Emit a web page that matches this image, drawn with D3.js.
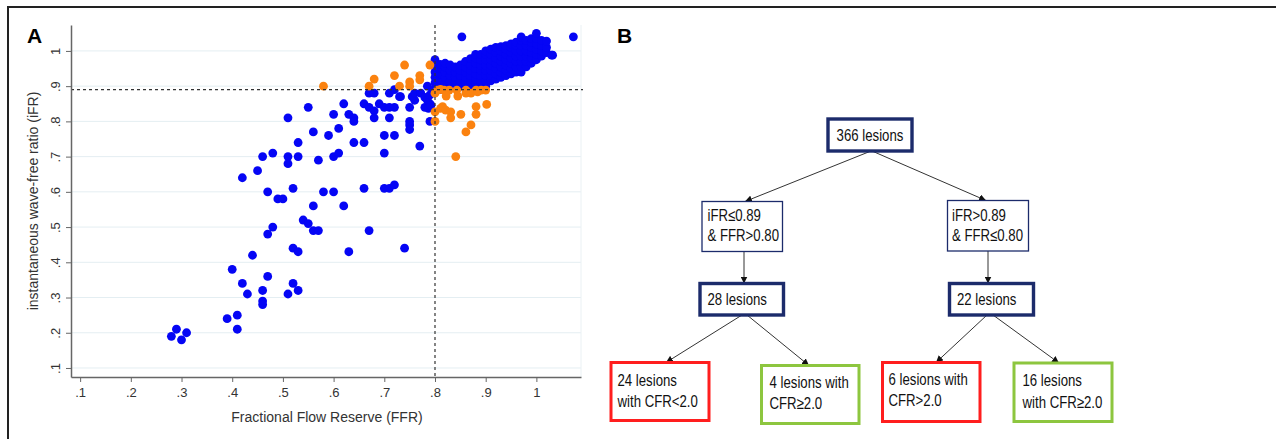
<!DOCTYPE html>
<html>
<head>
<meta charset="utf-8">
<script src="https://cdn.jsdelivr.net/npm/d3@7"></script>
<style>
  body { margin: 0; background: #fff; }
  svg text { font-family: "Liberation Sans", Arial, sans-serif; }
</style>
</head>
<body>
<svg id="fig" width="1276" height="439"></svg>
<script>
// ---- data ----
const xTicks = [0.1, 0.2, 0.3, 0.4, 0.5, 0.6, 0.7, 0.8, 0.9, 1];
const yTicks = [0.1, 0.2, 0.3, 0.4, 0.5, 0.6, 0.7, 0.8, 0.9, 1];
const ffrCut = 0.80;
const ifrCut = 0.89;

// scattered blue lesions [FFR, iFR]
const blueScatter = [
  [.28,.19],[.29,.21],[.30,.18],[.31,.20],
  [.39,.24],[.41,.25],[.41,.21],[.40,.38],[.42,.34],[.43,.31],[.44,.42],
  [.46,.32],[.46,.29],[.46,.28],[.47,.36],[.47,.48],[.48,.50],
  [.51,.31],[.52,.34],[.53,.32],[.52,.44],[.53,.43],[.54,.52],[.55,.51],
  [.56,.49],[.57,.49],[.56,.56],[.49,.58],[.50,.58],[.62,.56],[.67,.49],
  [.63,.43],[.74,.44],
  [.42,.64],[.45,.66],[.46,.70],[.48,.71],[.51,.81],[.55,.84],[.56,.77],
  [.53,.74],[.51,.70],[.51,.68],[.53,.70],[.57,.69],[.47,.60],[.52,.61],
  [.60,.70],[.61,.71],[.58,.60],[.60,.60],[.66,.61],[.70,.61],[.71,.61],[.72,.62],
  [.62,.85],[.60,.82],[.63,.82],[.64,.81],[.64,.80],[.59,.76],[.61,.78],
  [.64,.74],[.66,.74],[.70,.71],[.70,.76],[.72,.76],
  [.67,.88],[.68,.88],[.71,.88],[.72,.89],[.66,.85],[.67,.84],[.69,.85],
  [.70,.84],[.68,.83],[.68,.81],[.72,.84],[.71,.84],[.71,.81],[.73,.87],
  [.75,.84],[.76,.86],[.78,.84],[.79,.85],[.787,.837],[.75,.80],[.75,.79],
  [.75,.777],[.79,.80],[.77,.73],
  [.732,.87],[.755,.87],[.76,.88],[.772,.88],[.78,.868],[.785,.86],[.792,.846],
  [.785,.90],[.795,.889],[.79,.875],
  [.853,1.04],[1.073,1.04],[1.032,.988],[1.005,.99],[.815,.952],[.80,.975]
];

// dense blue cluster, one entry per FFR column: [FFR, [iFR values]]
const blueCluster = [
  [.80, [.895,.91,.925,.94,.955]],
  [.81, [.89,.905,.92,.935,.95,.962]],
  [.82, [.895,.91,.925,.94,.955,.965]],
  [.83, [.90,.915,.93,.945,.96]],
  [.84, [.895,.91,.925,.94,.955]],
  [.85, [.90,.915,.93,.945,.96]],
  [.86, [.895,.91,.925,.94,.955,.97]],
  [.87, [.90,.915,.93,.945,.96,.978]],
  [.88, [.905,.92,.935,.95,.965,.98,.99]],
  [.89, [.90,.915,.93,.945,.96,.975,.99]],
  [.90, [.90,.915,.93,.945,.96,.975,.99,1.0]],
  [.91, [.915,.93,.945,.96,.975,.99,1.005]],
  [.92, [.92,.935,.95,.965,.98,.995,1.01]],
  [.93, [.925,.94,.955,.97,.985,1.0,1.012]],
  [.94, [.93,.945,.96,.975,.99,1.005,1.015]],
  [.95, [.935,.95,.965,.98,.995,1.01,1.02]],
  [.96, [.94,.955,.97,.985,1.0,1.015,1.025]],
  [.97, [.94,.955,.97,.985,1.0,1.015,1.03,1.04]],
  [.98, [.955,.97,.985,1.0,1.015,1.03]],
  [.99, [.965,.98,.995,1.01,1.025,1.035]],
  [1.00, [.975,.99,1.005,1.02,1.035,1.05]],
  [1.01, [.985,1.0,1.015,1.03]],
  [1.02, [.995,1.01,1.028]],
  [1.03, [.988]]
];

// discordant lesions (orange) [FFR, iFR]
const orangePoints = [
  [.58,.90],[.67,.90],[.68,.92],[.72,.93],[.73,.90],[.74,.96],[.75,.912],
  [.75,.90],[.77,.93],[.77,.918],[.79,.96],
  [.805,.889],[.818,.889],[.828,.889],[.843,.889],[.861,.889],[.881,.889],
  [.891,.889],[.90,.889],[.811,.891],
  [.80,.88],[.822,.872],[.845,.872],[.861,.88],[.871,.88],[.884,.884],
  [.815,.842],[.80,.827],[.80,.80],[.811,.837],[.821,.832],[.831,.827],
  [.831,.81],[.851,.82],[.881,.842],[.881,.82],[.902,.848],[.871,.79],
  [.861,.77],[.841,.70]
];

// flow chart texts
const rootText = ["366 lesions"];
const splitTexts = [["iFR≤0.89", "& FFR>0.80"], ["iFR>0.89", "& FFR≤0.80"]];
const groupTexts = [["28 lesions"], ["22 lesions"]];
const leafTexts = [
  ["24 lesions", "with CFR<2.0"],
  ["4 lesions with", "CFR≥2.0"],
  ["6 lesions with", "CFR>2.0"],
  ["16 lesions", "with CFR≥2.0"]
];

// ---- drawing ----
const svg = d3.select("#fig");
const blue = "#0505f5", orange = "#fb820f";
const navy = "#1c2b6b", red = "#ff1e1e", green = "#8dc63f";

// outer frame
svg.append("path")
  .attr("d", "M8,439 V7 H1276")
  .attr("fill", "none").attr("stroke", "#222").attr("stroke-width", 2);

// panel letters
svg.append("text").attr("x", 27).attr("y", 43).text("A")
  .style("font-size", "21px").style("font-weight", "bold");
svg.append("text").attr("x", 617).attr("y", 43).text("B")
  .style("font-size", "21px").style("font-weight", "bold");

// scatter panel
const x = d3.scaleLinear().domain([0.082, 1.088]).range([71, 581]);
const y = d3.scaleLinear().domain([0.0744, 1.0736]).range([377, 25]);
const fmt = d => d === 1 ? "1" : d3.format(".1f")(d).replace(/^0/, "");

// grid
svg.append("g").selectAll("line").data(yTicks).join("line")
  .attr("x1", x.range()[0]).attr("x2", x.range()[1])
  .attr("y1", d => y(d)).attr("y2", d => y(d))
  .attr("stroke", "#e4eef2").attr("stroke-width", 1);
svg.append("line")
  .attr("x1", x.range()[1]).attr("x2", x.range()[1])
  .attr("y1", y.range()[1]).attr("y2", y.range()[0])
  .attr("stroke", "#eaf1f4");

// points
const bluePts = blueScatter.concat(blueCluster.flatMap(([f, vals]) => vals.map(v => [f, v])));
svg.append("g").selectAll("circle").data(bluePts).join("circle")
  .attr("cx", d => x(d[0])).attr("cy", d => y(d[1])).attr("r", 4.4)
  .attr("fill", blue);
svg.append("g").selectAll("circle").data(orangePoints).join("circle")
  .attr("cx", d => x(d[0])).attr("cy", d => y(d[1])).attr("r", 4.4)
  .attr("fill", orange);

// cut-off lines
svg.append("line")
  .attr("x1", x.range()[0]).attr("x2", x.range()[1] + 2)
  .attr("y1", y(ifrCut)).attr("y2", y(ifrCut))
  .attr("stroke", "#333").attr("stroke-width", 1.2).attr("stroke-dasharray", "3,3");
svg.append("line")
  .attr("x1", x(ffrCut)).attr("x2", x(ffrCut))
  .attr("y1", y.range()[1]).attr("y2", y.range()[0])
  .attr("stroke", "#333").attr("stroke-width", 1.2).attr("stroke-dasharray", "3,3");

// axes
const xAxis = svg.append("g").attr("transform", "translate(0,377)")
  .call(d3.axisBottom(x).tickValues(xTicks).tickFormat(fmt).tickSize(5).tickSizeOuter(0));
const yAxis = svg.append("g").attr("transform", "translate(71,0)")
  .call(d3.axisLeft(y).tickValues(yTicks).tickFormat(fmt).tickSize(5).tickSizeOuter(0));
[xAxis, yAxis].forEach(g => {
  g.select(".domain").attr("stroke", "#666").attr("stroke-width", 1.5);
  g.selectAll(".tick line").attr("stroke", "#666");
  g.selectAll(".tick text").attr("fill", "#333")
    .style("font-size", "13px").style("font-family", "'Liberation Sans', Arial, sans-serif");
});
xAxis.selectAll(".tick text").attr("y", 11).attr("dy", "0.71em");
yAxis.selectAll(".tick text")
  .attr("transform", "rotate(-90)")
  .attr("x", 0).attr("y", -11).attr("dy", 0)
  .attr("text-anchor", "middle");

svg.append("text").attr("x", 327).attr("y", 421.5).attr("text-anchor", "middle")
  .attr("fill", "#333").style("font-size", "14px").text("Fractional Flow Reserve (FFR)");
svg.append("text").attr("transform", "translate(38,201) rotate(-90)")
  .attr("text-anchor", "middle").attr("fill", "#333").style("font-size", "14px")
  .text("instantaneous wave-free ratio (iFR)");

// flow chart panel
const defs = svg.append("defs");
defs.append("marker").attr("id", "arr")
  .attr("viewBox", "0 0 10 10").attr("refX", 10).attr("refY", 5)
  .attr("markerWidth", 7).attr("markerHeight", 7).attr("markerUnits", "userSpaceOnUse")
  .attr("orient", "auto")
  .append("path").attr("d", "M0,0 L10,5 L0,10 Z").attr("fill", "#111");

const arrows = [
  [871, 151, 745, 201.5], [872, 151, 986, 200.5],
  [744, 252, 744, 283.5], [988, 251, 988, 283.5],
  [742, 315, 666, 362.5], [747, 315, 809, 365.5],
  [987, 315, 936, 362.5], [993, 315, 1059, 363]
];
svg.append("g").selectAll("line").data(arrows).join("line")
  .attr("x1", d => d[0]).attr("y1", d => d[1]).attr("x2", d => d[2]).attr("y2", d => d[3])
  .attr("stroke", "#333").attr("stroke-width", 1).attr("marker-end", "url(#arr)");

const boxes = [
  { x: 828, y: 119, w: 84, h: 32, stroke: navy, sw: 3.4, lines: rootText, tx: 870, anchor: "middle", base: [141] },
  { x: 702, y: 201.5, w: 80.5, h: 50, stroke: navy, sw: 1.3, lines: splitTexts[0], tx: 707.5, base: [221, 241] },
  { x: 947.5, y: 200.5, w: 81, h: 50.5, stroke: navy, sw: 1.3, lines: splitTexts[1], tx: 952, base: [220.5, 240.5] },
  { x: 700, y: 283.5, w: 83.5, h: 31.5, stroke: navy, sw: 3.4, lines: groupTexts[0], tx: 707.5, base: [304.5] },
  { x: 949.5, y: 283.5, w: 84, h: 31.5, stroke: navy, sw: 3.4, lines: groupTexts[1], tx: 957, base: [305] },
  { x: 611, y: 362.5, w: 98, h: 58, stroke: red, sw: 3, lines: leafTexts[0], tx: 617.5, base: [385.5, 406.5] },
  { x: 761.5, y: 365.5, w: 97.5, h: 58, stroke: green, sw: 3, lines: leafTexts[1], tx: 769.5, base: [388, 409] },
  { x: 882.5, y: 362.5, w: 97.5, h: 59, stroke: red, sw: 3, lines: leafTexts[2], tx: 888.5, base: [385, 405.5] },
  { x: 1014, y: 363, w: 98, h: 58.5, stroke: green, sw: 3, lines: leafTexts[3], tx: 1022.5, base: [386, 408] }
];

boxes.forEach(b => {
  svg.append("rect").attr("x", b.x).attr("y", b.y).attr("width", b.w).attr("height", b.h)
    .attr("fill", "#fff").attr("stroke", b.stroke).attr("stroke-width", b.sw);
  b.lines.forEach((t, i) => {
    svg.append("text")
      .attr("transform", `translate(${b.tx},${b.base[i]}) scale(0.8,1)`)
      .attr("text-anchor", b.anchor || "start")
      .attr("fill", "#111").style("font-size", "16.5px")
      .text(t);
  });
});
</script>
</body>
</html>
